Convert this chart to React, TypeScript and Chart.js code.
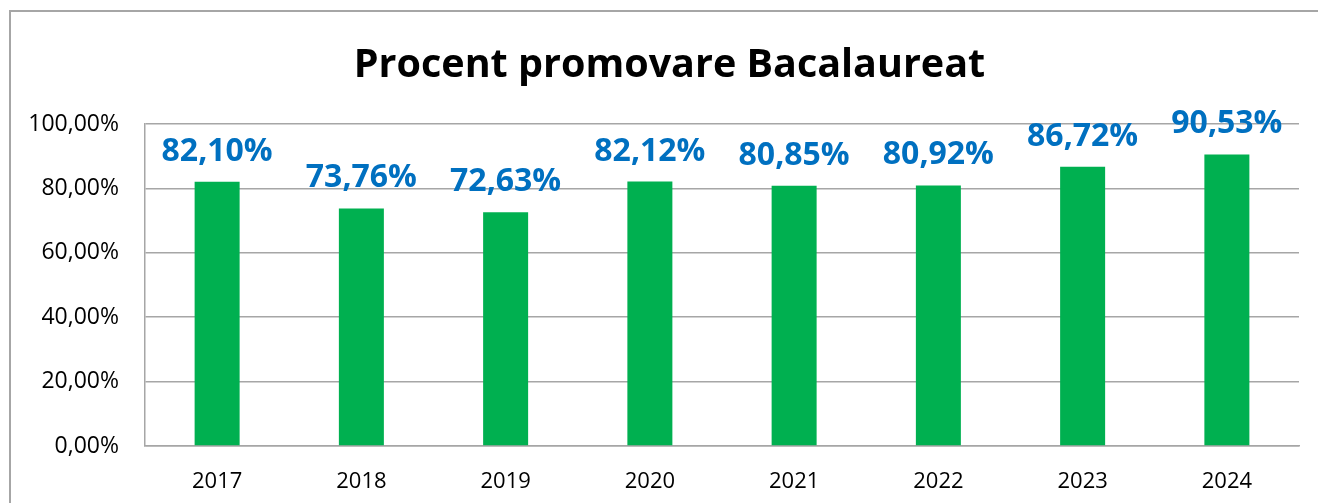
import React, { useEffect, useRef } from "react";
import { Chart, registerables } from "chart.js";

Chart.register(...registerables);

const years = ["2017", "2018", "2019", "2020", "2021", "2022", "2023", "2024"];
const passRates = [82.1, 73.76, 72.63, 82.12, 80.85, 80.92, 86.72, 90.53];
const yTicks = [0, 20, 40, 60, 80, 100];
const titleText = "Procent promovare Bacalaureat";

const fmt = (v: number) => v.toFixed(2).replace(".", ",") + "%";

const valueLabels = {
  id: "valueLabels",
  afterDatasetsDraw(chart: any) {
    const ctx = chart.ctx;
    const meta = chart.getDatasetMeta(0);
    ctx.save();
    ctx.fillStyle = "#0070C0";
    ctx.font = "bold 32px 'Open Sans'";
    ctx.textAlign = "center";
    ctx.textBaseline = "alphabetic";
    meta.data.forEach((el: any, i: number) => {
      ctx.fillText(fmt(passRates[i]), el.x, el.y - 21);
    });
    ctx.restore();
  },
};

const titleShift = {
  id: "titleShift",
  afterLayout(chart: any) {
    if (chart.titleBlock) chart.titleBlock.right += 40;
  },
};

export default function App() {
  const ref = useRef<HTMLCanvasElement>(null);
  useEffect(() => {
    const chart = new Chart(ref.current!, {
      type: "bar",
      data: {
        labels: years,
        datasets: [
          {
            data: passRates,
            backgroundColor: "#00B050",
            borderWidth: 0,
            categoryPercentage: 1,
            barPercentage: 0.312,
          },
        ],
      },
      options: {
        animation: false,
        responsive: false,
        maintainAspectRatio: false,
        layout: { padding: { left: 0, right: 19, top: 0, bottom: 0 } },
        plugins: {
          legend: { display: false },
          tooltip: { enabled: false },
          title: {
            display: true,
            text: titleText,
            color: "#000",
            font: { family: "'Open Sans'", size: 39.5, weight: "bold" },
            padding: { top: 42, bottom: 34.6 },
          },
        },
        scales: {
          x: {
            afterFit: (s: any) => { s.height = 57; },
            grid: { display: false, drawTicks: false },
            border: { display: true, color: "#a6a6a6", width: 1.5 },
            ticks: { color: "#000", font: { family: "'Open Sans'", size: 22 }, padding: 23 },
          },
          y: {
            min: 0,
            max: 100,
            afterFit: (s: any) => { s.width = 145; },
            afterBuildTicks: (s: any) => { s.ticks = yTicks.map((v) => ({ value: v })); },
            grid: { color: "#a6a6a6", lineWidth: 1.5, drawTicks: false },
            border: { display: true, color: "#a6a6a6", width: 1.5 },
            ticks: {
              color: "#000",
              font: { family: "'Open Sans'", size: 23 },
              padding: 26,
              callback: (v: any) => fmt(Number(v)),
            },
          },
        },
      },
      plugins: [valueLabels, titleShift],
    });
    return () => chart.destroy();
  }, []);
  return (
    <div style={{ position: "fixed", left: 0, top: 0, width: 1318, height: 503, background: "#fff", overflow: "hidden" }}>
      <div style={{ position: "absolute", left: 9, top: 10, width: 1400, height: 600, border: "2px solid #a6a6a6" }} />
      <canvas ref={ref} width={1318} height={503} style={{ position: "absolute", left: 0, top: 0 }} />
    </div>
  );
}
